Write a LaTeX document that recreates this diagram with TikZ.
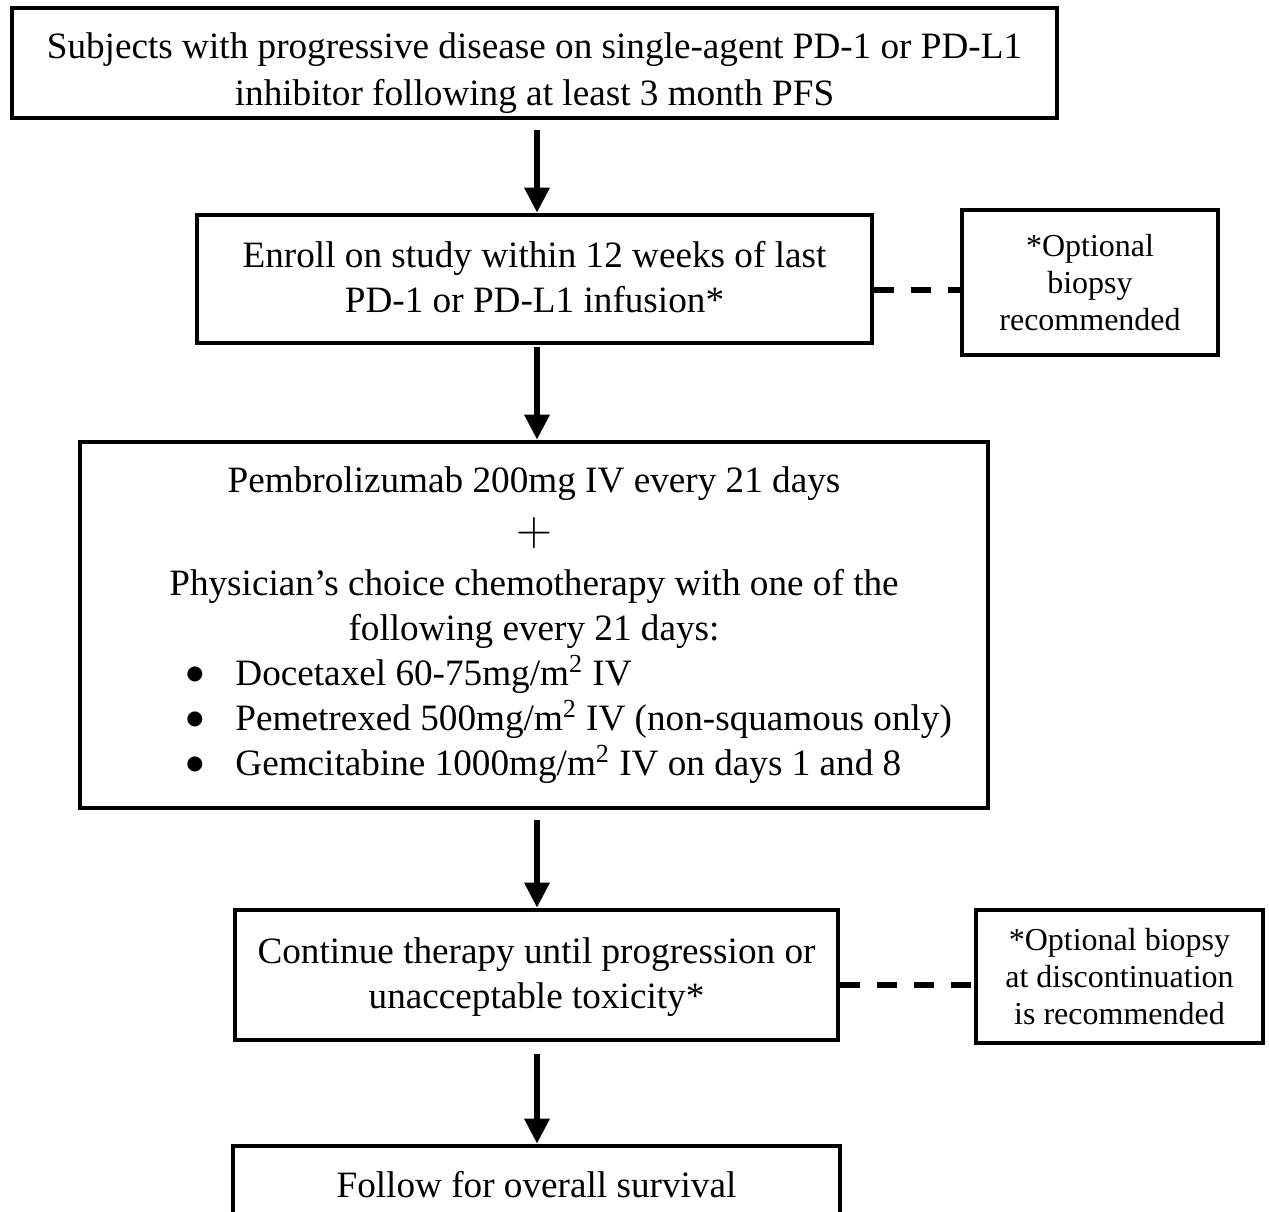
\documentclass[tikz,border=0pt]{standalone}
\usepackage{fontspec}
\setmainfont{Liberation Serif}
\newfontfamily\dvsfont{DejaVu Sans}
\usetikzlibrary{arrows.meta,calc}
\newcommand\mainfs{\fontsize{18.6}{22.5}\selectfont}
\newcommand\sidefs{\fontsize{16}{18.3}\selectfont}
\begin{document}
\begin{tikzpicture}[x=0.5pt,y=-0.5pt,
  box/.style={draw,line width=2.3pt,rectangle,inner sep=0pt,align=center,font=\mainfs},
  txt/.style={inner sep=0pt,font=\mainfs},
  bul/.style={inner sep=0pt,font=\dvsfont\fontsize{9.8}{9.8}\selectfont},
  arr/.style={-{Triangle[width=12pt,length=12.5pt]},line width=3pt},
  dsh/.style={line width=2.8pt,dash pattern=on 10pt off 8.5pt}]
\useasboundingbox (0,0) rectangle (1269,1211);
\clip (0,0) rectangle (1269,1211);
\fill[white] (0,0) rectangle (1269,1211);

\node[box,minimum width=522.5pt,minimum height=55pt] (b1) at (534.5,63) {};
\node[txt,align=center,font=\fontsize{18.6}{23.5}\selectfont] (b1t) at (534.5,73)
  {Subjects with progressive disease on single-agent PD-1 or PD-L1\\inhibitor following at least 3 month PFS};
\node[box,minimum width=337.5pt,minimum height=64pt] (b2) at (534.5,279) {};
\node[txt,align=center] (b2t) at (534.5,277)
  {Enroll on study within 12 weeks of last\\PD-1 or PD-L1 infusion*};
\node[box,font=\sidefs,minimum width=128pt,minimum height=72.5pt] (s1) at (1090,282.5)
  {*Optional\\biopsy\\recommended};
\node[box,minimum width=454pt,minimum height=183pt] (b3) at (534,625) {};
\node[txt,anchor=base] (t1) at (534,492) {Pembrolizumab 200mg IV every 21 days};
\node[txt,font=\fontsize{26}{26}\selectfont] (t2) at (534,533) {$+$};
\node[txt,anchor=base] (t3) at (534,595) {Physician’s choice chemotherapy with one of the};
\node[txt,anchor=base] (t4) at (534,640) {following every 21 days:};
\node[bul] (k1) at (195,674) {●};
\node[bul] (k2) at (195,719) {●};
\node[bul] (k3) at (195,764) {●};
\node[txt,anchor=base west] (l1) at (235,685) {Docetaxel 60-75mg/m\textsuperscript{2} IV};
\node[txt,anchor=base west] (l2) at (235,730) {Pemetrexed 500mg/m\textsuperscript{2} IV (non-squamous only)};
\node[txt,anchor=base west] (l3) at (235,775) {Gemcitabine 1000mg/m\textsuperscript{2} IV on days 1 and 8};
\node[box,minimum width=301.5pt,minimum height=65pt] (b4) at (536.5,975) {};
\node[txt,align=center] (b4t) at (536.5,977)
  {Continue therapy until progression or\\unacceptable toxicity*};
\node[box,font=\sidefs,minimum width=143.5pt,minimum height=66.5pt] (s2) at (1119.5,976.5)
  {*Optional biopsy\\at discontinuation\\is recommended};
\node[box,minimum width=303.5pt,minimum height=39pt] (b5) at (536.5,1185)
  {Follow for overall survival};

\draw[arr] ($(b1.south)+(2.5,10)$) -- ($(b2.north)+(2.5,0)$);
\draw[arr] ($(b2.south)+(2.5,2)$) -- ($(b3.north)+(3,0)$);
\draw[arr] ($(b3.south)+(3,10)$) -- ($(b4.north)+(0.5,0)$);
\draw[arr] ($(b4.south)+(0.5,12)$) -- ($(b5.north)+(0.5,0)$);

\draw[dsh] ([yshift=-5.5pt]b2.east) -- ([yshift=-5.5pt]b2.east -| s1.west);
\draw[dsh] ([yshift=-5pt]b4.east) -- ([yshift=-5pt]b4.east -| s2.west);
\end{tikzpicture}
\end{document}
